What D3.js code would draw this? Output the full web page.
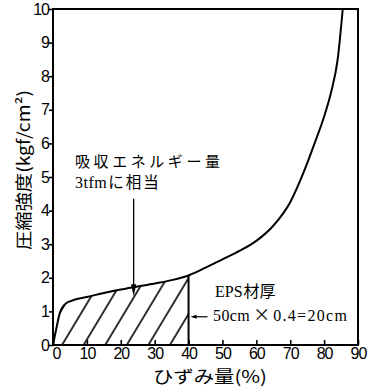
<!DOCTYPE html>
<html>
<head>
<meta charset="utf-8">
<script src="https://cdn.jsdelivr.net/npm/d3@7"></script>
<style>
  html, body { margin: 0; padding: 0; background: #fff; }
  svg { display: block; }
</style>
</head>
<body>
<svg id="chart" width="378" height="388"></svg>
<script>
// ---- data ----
const strain = [0, 0.5, 1, 2, 3, 4, 5, 7, 10, 15, 20, 25, 30, 35, 40, 45, 50, 55, 60, 65, 70, 74, 77, 80, 82, 84, 85.5];
const stress = [0, 0.25, 0.5, 0.95, 1.15, 1.25, 1.3, 1.37, 1.43, 1.55, 1.65, 1.74, 1.83, 1.93, 2.07, 2.3, 2.55, 2.8, 3.1, 3.55, 4.25, 5.15, 5.95, 6.8, 7.5, 8.5, 10];
const xTicks = [0, 10, 20, 30, 40, 50, 60, 70, 80, 90];
const yTicks = [0, 1, 2, 3, 4, 5, 6, 7, 8, 9, 10];
const hatchLimit = 40;
const xTitle = "ひずみ量(%)";
const yTitle = "圧縮強度(kgf/cm²)";
const note1 = ["吸収エネルギー量", "3tfm", "に相当"];
const note2 = ["EPS材厚", "50cm", "×", "0.4=20cm"];

const pts = strain.map((s, i) => ({ x: s, y: stress[i] }));

const svg = d3.select("#chart");
const x = d3.scaleLinear().domain([0, 90]).range([53, 358]);
const y = d3.scaleLinear().domain([0, 10]).range([345, 9]);

const serif = "'Liberation Serif','Noto Sans CJK JP',serif";
const cjk = "'Noto Sans CJK JP','Liberation Serif',sans-serif";

// hatch pattern
const defs = svg.append("defs");
const pat = defs.append("pattern")
  .attr("id", "hatch").attr("patternUnits", "userSpaceOnUse")
  .attr("width", 18.5).attr("height", 40)
  .attr("patternTransform", "translate(8,0) rotate(31)");
pat.append("line").attr("x1", 2).attr("y1", -5).attr("x2", 2).attr("y2", 45)
  .attr("stroke", "#000").attr("stroke-width", 1.6);

const hatchPts = pts.filter(d => d.x <= hatchLimit);
const area = d3.area().x(d => x(d.x)).y0(y(0)).y1(d => y(d.y)).curve(d3.curveMonotoneX);
svg.append("path").datum(hatchPts).attr("d", area).attr("fill", "url(#hatch)");

// vertical line at 40%
const v40 = hatchPts[hatchPts.length - 1];
svg.append("line").attr("x1", x(v40.x)).attr("x2", x(v40.x))
  .attr("y1", y(0)).attr("y2", y(v40.y)).attr("stroke", "#000").attr("stroke-width", 2);

// frame
svg.append("rect").attr("x", x(0)).attr("y", y(10))
  .attr("width", x(90) - x(0)).attr("height", y(0) - y(10))
  .attr("fill", "none").attr("stroke", "#000").attr("stroke-width", 2);

// curve
const line = d3.line().x(d => x(d.x)).y(d => y(d.y)).curve(d3.curveMonotoneX);
svg.append("path").datum(pts).attr("d", line)
  .attr("fill", "none").attr("stroke", "#000").attr("stroke-width", 2);

// axes
const yAxis = svg.append("g").attr("transform", `translate(${x(0)},0)`)
  .call(d3.axisLeft(y).tickValues(yTicks).tickFormat(d3.format("d")).tickSize(4).tickPadding(0));
const xAxis = svg.append("g").attr("transform", `translate(0,${y(0)})`)
  .call(d3.axisBottom(x).tickValues(xTicks).tickFormat(d3.format("d")).tickSizeInner(-5).tickSizeOuter(0).tickPadding(3));
[yAxis, xAxis].forEach(g => {
  g.select(".domain").remove();
  g.selectAll(".tick line").attr("stroke", "#000").attr("stroke-width", 1.6);
  g.selectAll(".tick text").attr("fill", "#000")
    .style("font-family", "'Liberation Sans',sans-serif").style("font-size", "16px")
    .style("letter-spacing", "-1px");
});
xAxis.selectAll(".tick text").filter(d => d === 0).attr("dx", 3);

// axis titles
svg.append("text").attr("x", 153).attr("y", 383).attr("textLength", 114)
  .attr("lengthAdjust", "spacingAndGlyphs")
  .style("font-family", cjk).style("font-size", "17px").text(xTitle);
svg.append("text").attr("transform", "translate(30,170) rotate(-90)")
  .attr("text-anchor", "middle").attr("textLength", 160).attr("lengthAdjust", "spacingAndGlyphs")
  .style("font-family", cjk).style("font-size", "17px").text(yTitle);

// annotation 1
svg.append("text").attr("x", 75).attr("y", 167).attr("textLength", 145)
  .attr("lengthAdjust", "spacing")
  .style("font-family", cjk).style("font-size", "15px").text(note1[0]);
const t1 = svg.append("text").attr("x", 75).attr("y", 188)
  .style("font-family", serif).style("font-size", "16px");
t1.append("tspan").style("letter-spacing", "0.5px").text(note1[1]);
t1.append("tspan").attr("dx", 1).style("font-family", cjk).style("font-size", "15.5px")
  .style("letter-spacing", "2px").text(note1[2]);

const ax = 23.8, aTop = 4.35, aTip = 1.45;
svg.append("line").attr("x1", x(ax)).attr("x2", x(ax)).attr("y1", y(aTop)).attr("y2", y(aTip) - 8)
  .attr("stroke", "#000").attr("stroke-width", 1.3);
svg.append("path")
  .attr("d", `M${x(ax) - 2.6},${y(aTip) - 12} L${x(ax) + 2.6},${y(aTip) - 12} L${x(ax)},${y(aTip)} Z`)
  .attr("fill", "#000");

// annotation 2
const t2 = svg.append("text").attr("x", 215).attr("y", 297)
  .style("font-family", serif).style("font-size", "16px");
t2.append("tspan").text(note2[0].slice(0, 3));
t2.append("tspan").attr("dx", 1).style("font-family", cjk).style("font-size", "16px").text(note2[0].slice(3));
const t3 = svg.append("text").attr("x", 213).attr("y", 321)
  .style("font-family", serif).style("font-size", "16px");
t3.append("tspan").style("letter-spacing", "0.4px").text(note2[1]);
t3.append("tspan").attr("dx", 3).style("font-family", cjk).style("font-size", "17px").text(note2[2]);
t3.append("tspan").attr("dx", 3).style("letter-spacing", "1.3px").text(note2[3]);
const bY = 0.84, bX0 = 45.6;
svg.append("line").attr("x1", x(bX0)).attr("x2", x(hatchLimit) + 5).attr("y1", y(bY)).attr("y2", y(bY))
  .attr("stroke", "#000").attr("stroke-width", 1.2);
svg.append("path")
  .attr("d", `M${x(hatchLimit) + 8},${y(bY) - 2} L${x(hatchLimit) + 8},${y(bY) + 2} L${x(hatchLimit) + 2},${y(bY)} Z`)
  .attr("fill", "#000");
</script>
</body>
</html>
